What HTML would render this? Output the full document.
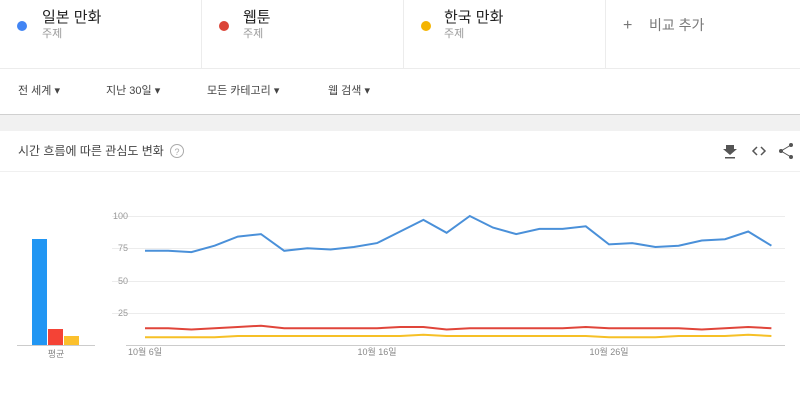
<!DOCTYPE html>
<html><head><meta charset="utf-8"><style>
body{margin:0;width:800px;height:400px;background:#fff;font-family:"Liberation Sans","Noto Sans CJK KR",sans-serif;overflow:hidden;position:relative}
.a{position:absolute}
</style></head><body>
<svg class="a" style="left:0;top:0" width="800" height="400">
<rect x="0" y="114" width="800" height="17" fill="#f1f1f1"/>
<line x1="0" y1="114.5" x2="800" y2="114.5" stroke="#d0d0d0"/>
<line x1="0" y1="68.5" x2="800" y2="68.5" stroke="#ececec"/>
<line x1="201.5" y1="0" x2="201.5" y2="68" stroke="#ececec"/>
<line x1="403.5" y1="0" x2="403.5" y2="68" stroke="#ececec"/>
<line x1="605.5" y1="0" x2="605.5" y2="68" stroke="#ececec"/>
<line x1="0" y1="171.5" x2="800" y2="171.5" stroke="#f0f0f0"/>
<circle cx="22" cy="26" r="5" fill="#4285f4"/>
<circle cx="224" cy="26" r="5" fill="#db4437"/>
<circle cx="426" cy="26" r="5" fill="#f4b400"/>
<g font-size="15" fill="#222"><text x="42" y="22">일본 만화</text><text x="243" y="22">웹툰</text><text x="444" y="22">한국 만화</text></g>
<g font-size="11" fill="#999"><text x="42" y="37">주제</text><text x="243" y="37">주제</text><text x="444" y="37">주제</text></g>
<text x="623" y="30" font-size="16" fill="#777">+</text>
<text x="649" y="30" font-size="14" fill="#777">비교 추가</text>
<g font-size="11" fill="#444"><text x="18" y="94">전 세계 ▾</text><text x="106" y="94">지난 30일 ▾</text><text x="207" y="94">모든 카테고리 ▾</text><text x="328" y="94">웹 검색 ▾</text></g>
<text x="18" y="155" font-size="12" fill="#444">시간 흐름에 따른 관심도 변화</text>
<circle cx="177" cy="151" r="6.5" fill="none" stroke="#aaa"/>
<text x="177" y="155" font-size="9" fill="#aaa" text-anchor="middle">?</text>
<path d="M726 145h8v4h3l-7 6-7-6h3z M725 157h10v1.5h-10z" fill="#555"/>
<path d="M757 147l-4 4 4 4 M761 147l4 4-4 4" fill="none" stroke="#555" stroke-width="1.5"/>
<circle cx="791" cy="145" r="2" fill="#555"/><circle cx="781" cy="151" r="2" fill="#555"/><circle cx="791" cy="157" r="2" fill="#555"/>
<path d="M791 145L781 151L791 157" stroke="#555" fill="none"/>
<g stroke="#ececec"><line x1="112" y1="216.5" x2="785" y2="216.5"/><line x1="112" y1="248.5" x2="785" y2="248.5"/><line x1="112" y1="281.5" x2="785" y2="281.5"/><line x1="112" y1="313.5" x2="785" y2="313.5"/></g>
<line x1="126" y1="345.5" x2="785" y2="345.5" stroke="#ccc"/>
<g font-size="9" fill="#999" text-anchor="end"><text x="128" y="219">100</text><text x="128" y="251">75</text><text x="128" y="284">50</text><text x="128" y="316">25</text></g>
<g font-size="9" fill="#888" text-anchor="middle"><text x="145" y="355">10월 6일</text><text x="377" y="355">10월 16일</text><text x="609" y="355">10월 26일</text></g>
<polyline fill="none" stroke="#4a90d9" stroke-width="2" points="145,250.8 168.2,250.8 191.4,252.1 214.6,245.7 237.8,236.6 261,234.1 284.2,250.8 307.4,248.3 330.6,249.5 353.8,247 377,243.1 400.2,231.5 423.4,219.9 446.6,232.8 469.8,216 493,227.6 516.2,234.1 539.4,228.9 562.6,228.9 585.8,226.3 609,244.4 632.2,243.1 655.4,247 678.6,245.7 701.8,240.5 725,239.2 748.2,231.5 771.4,245.7"/>
<polyline fill="none" stroke="#e0453a" stroke-width="2" points="145,328.2 168.2,328.2 191.4,329.5 214.6,328.2 237.8,327 261,325.7 284.2,328.2 307.4,328.2 330.6,328.2 353.8,328.2 377,328.2 400.2,327 423.4,327 446.6,329.5 469.8,328.2 493,328.2 516.2,328.2 539.4,328.2 562.6,328.2 585.8,327 609,328.2 632.2,328.2 655.4,328.2 678.6,328.2 701.8,329.5 725,328.2 748.2,327 771.4,328.2"/>
<polyline fill="none" stroke="#f6c026" stroke-width="2" points="145,337.3 168.2,337.3 191.4,337.3 214.6,337.3 237.8,336 261,336 284.2,336 307.4,336 330.6,336 353.8,336 377,336 400.2,336 423.4,334.7 446.6,336 469.8,336 493,336 516.2,336 539.4,336 562.6,336 585.8,336 609,337.3 632.2,337.3 655.4,337.3 678.6,336 701.8,336 725,336 748.2,334.7 771.4,336"/>
<rect x="32" y="239" width="15" height="106" fill="#2196f3"/>
<rect x="48" y="329" width="15" height="16" fill="#f44336"/>
<rect x="64" y="336" width="15" height="9" fill="#fbc02d"/>
<line x1="17" y1="345.5" x2="95" y2="345.5" stroke="#ccc"/>
<text x="56" y="357" font-size="9" fill="#888" text-anchor="middle">평균</text>
</svg>
</body></html>
